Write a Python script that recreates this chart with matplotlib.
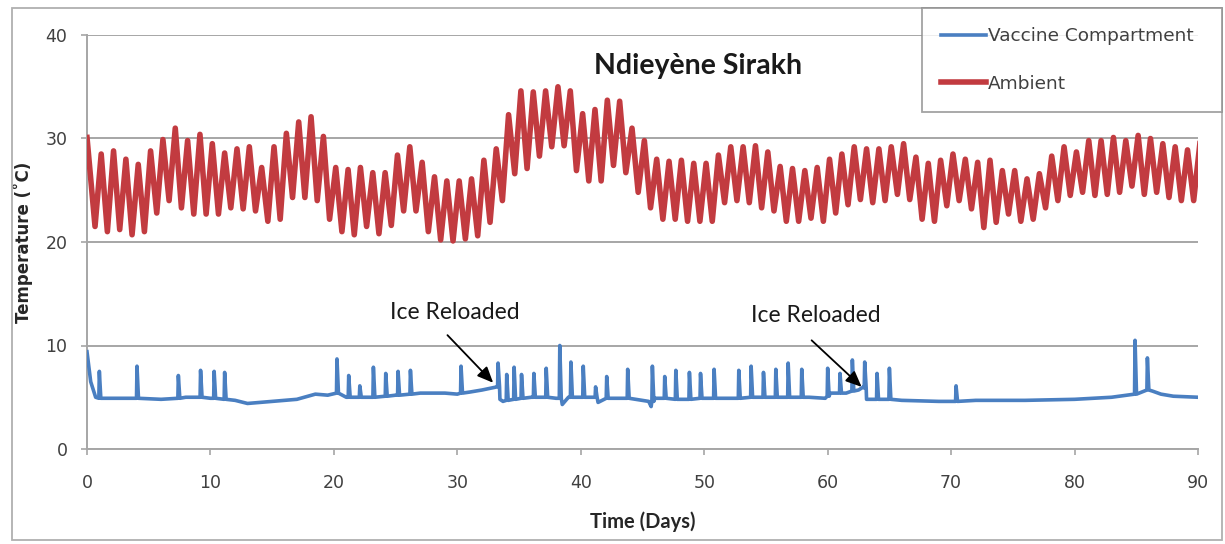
import numpy as np
import matplotlib
matplotlib.use('Agg')
import matplotlib.pyplot as plt
from matplotlib.patches import Rectangle

# Ambient: daily maximum (day 0..90) and the minimum that follows each one
ambient_max = [30.1, 28.5, 28.8, 28.0, 27.5, 28.8, 29.9, 31.0, 29.8, 30.4,
               29.5, 28.6, 29.0, 29.2, 27.2, 29.2, 30.5, 31.6, 32.1, 30.2,
               27.2, 27.0, 27.2, 26.7, 26.7, 28.4, 29.2, 27.7, 26.3, 25.9,
               25.9, 26.1, 27.9, 29.0, 32.3, 34.6, 34.5, 34.6, 35.0, 34.6,
               32.4, 32.8, 33.7, 33.6, 31.0, 29.8, 28.0, 27.8, 27.9, 27.6,
               27.6, 28.4, 29.2, 29.2, 29.3, 28.7, 27.3, 27.1, 26.9, 27.2,
               28.0, 28.5, 29.2, 29.0, 29.0, 29.2, 29.5, 28.2, 27.6, 27.9,
               28.5, 28.0, 27.7, 27.9, 26.9, 26.9, 26.1, 26.6, 28.3, 29.2,
               28.7, 29.8, 29.8, 30.1, 29.8, 30.3, 30.0, 29.5, 29.2, 28.9,
               29.5]
ambient_min = [21.5, 21.0, 21.2, 20.7, 21.0, 22.8, 24.0, 23.3, 22.7, 22.7,
               22.7, 23.3, 23.2, 23.0, 22.0, 22.2, 24.3, 24.3, 24.0, 22.2,
               21.0, 20.7, 21.5, 20.8, 21.6, 23.0, 23.0, 21.0, 20.2, 20.1,
               20.3, 20.6, 21.9, 24.0, 26.6, 27.1, 28.3, 29.2, 29.3, 26.9,
               25.9, 25.9, 27.4, 26.7, 24.8, 23.3, 22.2, 22.2, 22.0, 22.0,
               22.0, 23.8, 24.0, 23.8, 23.3, 23.0, 22.0, 22.0, 22.3, 22.0,
               22.8, 23.6, 24.1, 23.8, 24.0, 24.6, 24.1, 22.2, 22.0, 23.5,
               24.0, 23.2, 21.4, 21.9, 22.7, 22.0, 22.2, 23.3, 24.0, 24.5,
               24.8, 24.5, 24.6, 24.8, 25.4, 24.6, 24.8, 24.3, 24.0, 24.0]

# Vaccine compartment: slow baseline plus short door-opening spikes
base_day = [0.0, 0.3, 0.7, 2.0, 4.0, 6.0, 8.0, 10.0, 12.0, 13.0, 15.0, 17.0,
            18.5, 19.5, 20.2, 21.0, 23.0, 25.0, 27.0, 29.0, 30.0, 31.0, 32.0,
            33.2, 33.45, 33.7, 36.0, 38.0, 38.5, 39.0, 41.0, 41.4, 43.0, 45.5,
            45.7, 46.0, 48.0, 50.0, 52.0, 55.0, 58.5, 59.8, 60.2, 61.5, 62.5,
            62.9, 63.15, 66.0, 69.0, 72.0, 76.0, 80.0, 83.0, 84.8, 86.3, 87.0,
            88.0, 90.0]
base_temp = [9.4, 6.5, 5.0, 4.9, 4.9, 4.8, 5.0, 4.9, 4.7, 4.4, 4.6, 4.8,
             5.3, 5.2, 5.4, 5.0, 5.0, 5.2, 5.4, 5.4, 5.3, 5.5, 5.7,
             6.0, 4.8, 4.6, 5.0, 4.9, 4.3, 5.0, 5.0, 4.5, 4.9, 4.6,
             4.1, 4.9, 4.8, 4.9, 4.9, 5.0, 5.0, 4.9, 5.4, 5.4, 5.7,
             6.0, 4.8, 4.7, 4.6, 4.7, 4.7, 4.8, 5.0, 5.3, 5.6, 5.3,
             5.1, 5.0]
spike_day = [1.0, 4.05, 7.4, 9.2, 10.3, 11.15, 20.25, 21.2, 22.1, 23.2, 24.2,
             25.2, 26.2, 30.3, 33.3, 34.0, 34.6, 35.2, 36.2, 37.2, 38.3, 39.2,
             40.2, 41.2, 42.1, 43.8, 45.8, 46.8, 47.7, 48.8, 49.7, 50.8, 52.8,
             53.8, 54.8, 55.8, 56.8, 57.9, 60.0, 61.0, 62.0, 63.0, 64.0, 65.0,
             70.4, 84.9, 85.9]
spike_top = [7.5, 8.0, 7.1, 7.6, 7.5, 7.4, 8.7, 7.1, 6.1, 7.9, 7.3,
             7.5, 7.6, 8.0, 8.3, 7.2, 7.9, 7.2, 7.3, 7.8, 10.0, 8.4,
             8.0, 6.0, 7.0, 7.7, 8.0, 7.0, 7.6, 7.4, 7.3, 7.7, 7.6,
             8.0, 7.4, 7.7, 8.3, 7.7, 7.8, 7.3, 8.6, 8.4, 7.3, 7.8,
             6.1, 10.5, 8.8]
spike_base = [4.9, 4.9, 4.9, 5.0, 4.9, 4.8, 5.4, 5.0, 5.0, 5.0, 5.1,
              5.2, 5.3, 5.4, 6.0, 4.7, 4.8, 4.9, 5.0, 5.0, 4.9, 5.0,
              5.0, 5.0, 4.9, 4.9, 4.6, 4.9, 4.8, 4.8, 4.9, 4.9, 4.9,
              5.0, 5.0, 5.0, 5.0, 5.0, 5.1, 5.4, 5.6, 5.9, 4.8, 4.8,
              4.6, 5.3, 5.7]

x_ticks = [0, 10, 20, 30, 40, 50, 60, 70, 80, 90]
y_ticks = [0, 10, 20, 30, 40]

RED = '#c23b40'
BLUE = '#4a7fc1'
GRID = '#a6a6a6'
TXT = '#404040'

# interleave maxima and minima into one time series
peak_t = np.arange(len(ambient_max)) + 0.15
peak_t[0] = 0.0
trough_t = np.arange(len(ambient_min)) + 0.65
amb_t = np.empty(len(peak_t) + len(trough_t))
amb_v = np.empty_like(amb_t)
amb_t[0::2], amb_t[1::2] = peak_t, trough_t
amb_v[0::2], amb_v[1::2] = ambient_max, ambient_min

pts = list(zip(base_day, base_temp))
for d, top, b in zip(spike_day, spike_top, spike_base):
    pts += [(d - 0.04, b), (d, top), (d + 0.12, b)]
pts.sort()
vac_t = [p[0] for p in pts]
vac_v = [p[1] for p in pts]

W, H = 1225, 544
fig = plt.figure(figsize=(W / 100, H / 100), dpi=100)
ax = fig.add_axes([87 / W, 1 - 449 / H, (1198 - 87) / W, (449 - 35) / H])

ax.plot(vac_t, vac_v, color=BLUE, lw=2.6, solid_joinstyle='round',
        label='Vaccine Compartment', zorder=3)
ax.plot(amb_t, amb_v, color=RED, lw=4.0, solid_joinstyle='round',
        label='Ambient', zorder=3)

ax.set_xlim(0, 90)
ax.set_ylim(0, 40)
ax.set_xticks(x_ticks)
ax.set_yticks(y_ticks)
ax.yaxis.grid(True, color=GRID, lw=1.4, zorder=0)
ax.set_axisbelow(True)
for s in ['top', 'right']:
    ax.spines[s].set_visible(False)
for s in ['left', 'bottom']:
    ax.spines[s].set_color(GRID)
    ax.spines[s].set_linewidth(1.4)
ax.tick_params(axis='both', colors=GRID, labelcolor=TXT, labelsize=12.5,
               length=4, width=1.2)
ax.tick_params(axis='x', pad=14)
ax.tick_params(axis='y', pad=10)

ax.set_xlabel('Time (Days)', family='Lato', fontweight='bold', fontsize=14.5,
              color='#262626', labelpad=14)
ax.set_ylabel('Temperature (˚C)', fontweight='bold', fontsize=12,
              color='#262626', labelpad=9)

ax.text(49.5, 37.0, 'Ndieyène Sirakh', family='Lato', fontweight='bold',
        fontsize=20.5, ha='center', va='center', color='#1a1a1a')

# ice reload markers
arrow = dict(arrowstyle='-|>,head_length=0.8,head_width=0.35', color='black',
             lw=1.3, mutation_scale=12, shrinkA=0, shrinkB=0)
ax.text(29.8, 13.2, 'Ice Reloaded', family='Lato', fontsize=16.5,
        ha='center', va='center', color='#1a1a1a')
ax.annotate('', xy=(32.9, 6.4), xytext=(29.2, 11.0), arrowprops=arrow)
ax.text(59.0, 12.9, 'Ice Reloaded', family='Lato', fontsize=16.5,
        ha='center', va='center', color='#1a1a1a')
ax.annotate('', xy=(62.75, 6.0), xytext=(58.7, 10.5), arrowprops=arrow)

leg = fig.legend(loc='upper left',
                 bbox_to_anchor=(922 / W, 1 - 105 / H, 300 / W, 97 / H),
                 mode='expand', fontsize=13.3, frameon=True, fancybox=False,
                 handlelength=2.4, handletextpad=0.1, labelspacing=1.6,
                 borderpad=1.05, borderaxespad=0)
leg.get_frame().set_edgecolor('#8c8c8c')
leg.get_frame().set_linewidth(1.3)
for t in leg.get_texts():
    t.set_color(TXT)

# outer chart border
fig.patches.append(Rectangle((12 / W, 4 / H), (1222 - 12) / W, (536 - 4) / H,
                             transform=fig.transFigure, fill=False,
                             edgecolor='#b0b0b0', lw=1.3))

fig.savefig('out.png', dpi=100)
